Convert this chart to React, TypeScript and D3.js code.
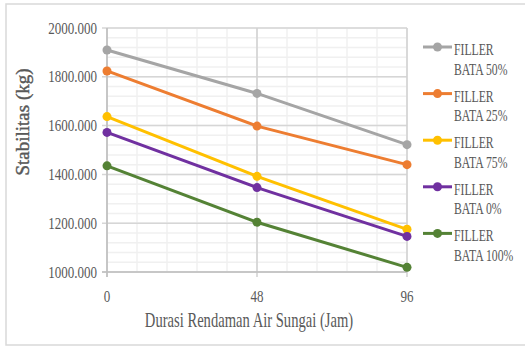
import React from "react";
import * as d3 from "d3";

// Soaking duration (hours) and Marshall stability (kg) per brick-filler content
const durations = [0, 48, 96];
const seriesNames = ["FILLER BATA 50%", "FILLER BATA 25%", "FILLER BATA 75%", "FILLER BATA 0%", "FILLER BATA 100%"];
const seriesColors = ["#a5a5a5", "#ed7d31", "#ffc000", "#7030a0", "#548235"];
const filler50 = [1910, 1732, 1522];
const filler25 = [1824, 1598, 1440];
const filler75 = [1637, 1392, 1175];
const filler0 = [1572, 1346, 1146];
const filler100 = [1435, 1204, 1019];
const seriesValues = [filler50, filler25, filler75, filler0, filler100];
const yTicks = [1000, 1200, 1400, 1600, 1800, 2000];
const xTitle = "Durasi Rendaman Air Sungai (Jam)";
const yTitle = "Stabilitas (kg)";

const W = 525;
const H = 346;
const plot = { left: 107, right: 407, top: 28, bottom: 272 };
const textColor = "#595959";
const font = "'Liberation Serif', 'Times New Roman', 'DejaVu Serif', serif";

function T({ x, y, size, anchor = "start", rotate = 0, sx = 0.8, weight = "normal", stroke, children }: any) {
  return (
    <text
      transform={`translate(${x},${y}) rotate(${rotate}) scale(${sx},1)`}
      fontSize={size}
      fontFamily={font}
      fontWeight={weight}
      fill={textColor}
      stroke={stroke}
      strokeWidth={stroke ? 0.4 : undefined}
      textAnchor={anchor}
    >
      {children}
    </text>
  );
}

export default function App() {
  const x = d3.scaleLinear().domain([0, 96]).range([plot.left, plot.right]);
  const y = d3.scaleLinear().domain([1000, 2000]).range([plot.bottom, plot.top]);
  const fmt = d3.format(".3f");
  const minorY = d3.range(1000, 2000.1, 40);
  const minorX = d3.range(0, 96.1, 9.6);
  const line = d3
    .line<number>()
    .x((_, i) => x(durations[i]))
    .y((v) => y(v));

  const legendX = 423;
  const legendY0 = 47;
  const legendStep = 46.6;

  return (
    <svg width={W} height={H} style={{ position: "absolute", left: 0, top: 0, background: "#fff" }}>
      <rect x={6} y={4} width={540} height={341} fill="#fff" stroke="#d9d9d9" strokeWidth={1.5} />

      {/* minor gridlines */}
      {minorY.map((v) => (
        <line key={"my" + v} x1={plot.left} x2={plot.right} y1={y(v)} y2={y(v)} stroke="#f0f0f0" strokeWidth={1.5} />
      ))}
      {minorX.map((v) => (
        <line key={"mx" + v} x1={x(v)} x2={x(v)} y1={plot.top} y2={plot.bottom} stroke="#f0f0f0" strokeWidth={1.5} />
      ))}
      {/* major gridlines */}
      {yTicks.map((v) => (
        <line key={"gy" + v} x1={plot.left - 5} x2={plot.right} y1={y(v)} y2={y(v)} stroke="#d6d6d6" strokeWidth={1.5} />
      ))}
      {durations.map((v) => (
        <line key={"gx" + v} x1={x(v)} x2={x(v)} y1={plot.top} y2={plot.bottom + 5} stroke="#d0d0d0" strokeWidth={1.5} />
      ))}
      {/* axes */}
      <line x1={plot.left} x2={plot.left} y1={plot.top} y2={plot.bottom + 5} stroke="#bfbfbf" strokeWidth={1.5} />
      <line x1={plot.left - 5} x2={plot.right} y1={plot.bottom} y2={plot.bottom} stroke="#bfbfbf" strokeWidth={1.5} />

      {/* tick labels */}
      {yTicks.map((v) => (
        <T key={"ty" + v} x={97} y={y(v) + 5.5} size={16.5} sx={0.79} anchor="end">
          {fmt(v)}
        </T>
      ))}
      {durations.map((v) => (
        <T key={"tx" + v} x={x(v)} y={301.5} size={16.5} sx={0.79} anchor="middle">
          {v}
        </T>
      ))}

      {/* axis titles */}
      <T x={249} y={327} size={20} sx={0.73} anchor="middle">
        {xTitle}
      </T>
      <T x={29} y={122} size={19} sx={1.0} anchor="middle" rotate={-90} stroke={textColor}>
        {yTitle}
      </T>

      {/* series */}
      {seriesValues.map((vals, si) => (
        <g key={"s" + si}>
          <path d={line(vals) || ""} fill="none" stroke={seriesColors[si]} strokeWidth={3} />
          {vals.map((v, i) => (
            <circle key={i} cx={x(durations[i])} cy={y(v)} r={4.5} fill={seriesColors[si]} />
          ))}
        </g>
      ))}

      {/* legend */}
      {seriesNames.map((name, si) => {
        const ly = legendY0 + si * legendStep;
        const words = name.split(" ");
        return (
          <g key={"l" + si}>
            <line x1={legendX} x2={legendX + 29} y1={ly} y2={ly} stroke={seriesColors[si]} strokeWidth={3} />
            <circle cx={legendX + 14.5} cy={ly} r={4.5} fill={seriesColors[si]} />
            <T x={454} y={ly + 8} size={17.5} sx={0.67}>
              {words[0]}
            </T>
            <T x={454} y={ly + 27.5} size={17.5} sx={0.67}>
              {words.slice(1).join(" ")}
            </T>
          </g>
        );
      })}
    </svg>
  );
}
